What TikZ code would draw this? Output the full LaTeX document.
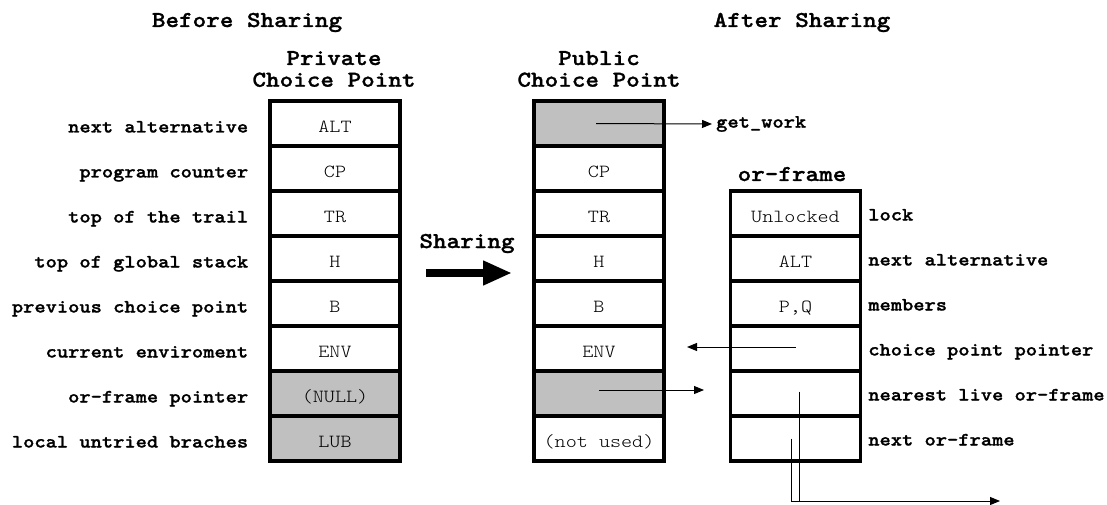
\documentclass[tikz,border=0pt]{standalone}
\usepackage{fontspec}
% typewriter faces, widened to the 0.6em advance of a Courier-style mono
\newfontfamily\monoreg{lmmonolt10-regular.otf}[FakeStretch=1.14]
\newfontfamily\monobold{lmmonolt10-bold.otf}[FakeStretch=1.14, FakeBold=1.2]
\usetikzlibrary{arrows.meta}
\definecolor{cellgrey}{HTML}{C0C0C0}
\newcommand{\cellfont}{\monoreg\fontsize{18.5}{20}\selectfont}
\newcommand{\lblfont}{\monobold\fontsize{18.8}{20}\selectfont}
\newcommand{\ttlfont}{\monobold\fontsize{22.7}{24}\selectfont}
\begin{document}
\begin{tikzpicture}[x=1pt,y=-1pt,
  cell/.style={draw, line width=3.2pt, minimum width=130pt, minimum height=45pt,
    inner sep=0pt, text height=18pt, text depth=0pt, font=\cellfont},
  shaded/.style={cell, fill=cellgrey},
  lbl/.style={font=\lblfont, inner sep=0pt},
  ttl/.style={font=\ttlfont, inner sep=0pt, anchor=base},
  ptr/.style={line width=1pt, -{Triangle[length=10pt,width=8pt]}},
  wire/.style={line width=1pt}]
\useasboundingbox (0,0) rectangle (1107,505);

% titles
\node[ttl] (before) at (247,27) {Before Sharing};
\node[ttl] (after) at (802,27) {After Sharing};
\node[ttl] (privA) at (334,65) {Private};
\node[ttl] (privB) at (334,86.7) {Choice Point};
\node[ttl] (pubA) at (599,65) {Public};
\node[ttl] (pubB) at (599,86.7) {Choice Point};
\node[ttl] (orttl) at (792,181) {or-frame};

% private choice point
\foreach \i/\t/\s/\l in {1/ALT/cell/next alternative,
                         2/CP/cell/program counter,
                         3/TR/cell/top of the trail,
                         4/H/cell/top of global stack,
                         5/B/cell/previous choice point,
                         6/ENV/cell/current enviroment,
                         7/(NULL)/shaded/or-frame pointer,
                         8/LUB/shaded/local untried braches}{
  \node[\s] (prv\i) at (335,{101+45*(\i-0.5)}) {\t};
  \node[lbl, anchor=base east] (prvl\i) at ([shift={(-20,9)}]prv\i.west) {\l};
}

% public choice point
\foreach \i/\t/\s in {1//shaded, 2/CP/cell, 3/TR/cell, 4/H/cell, 5/B/cell,
                      6/ENV/cell, 7//shaded, 8/(not used)/cell}{
  \node[\s] (pub\i) at (599,{101+45*(\i-0.5)}) {\t};
}

% or-frame
\foreach \i/\t/\l in {1/Unlocked/lock, 2/ALT/next alternative, 3/{P,Q}/members,
                      4//choice point pointer, 5//nearest live or-frame,
                      6//next or-frame}{
  \node[cell] (orf\i) at (795.5,{191+45*(\i-0.5)}) {\t};
  \node[lbl, anchor=base west] (orfl\i) at ([shift={(6,7)}]orf\i.east) {\l};
}

% sharing arrow
\node[font=\ttlfont, inner sep=0pt, anchor=base] (share) at (467,248) {Sharing};
\coordinate (shS) at (426,273);
\coordinate (shE) at (512,273);
\draw[line width=8pt, -{Triangle[length=29pt,width=23pt]}] (shS) -- (shE);

% pointers
\node[lbl, anchor=west] (gw) at (716,124) {get\_work};
\coordinate (gwEnd) at (712,124);
\draw[ptr] ([xshift=-3pt]pub1.center) -- (gwEnd);

\coordinate (cpEnd) at (687,347);
\draw[ptr] ([shift={(0,-1.5)}]orf4.center) -- (cpEnd);

\coordinate (ofEnd) at (704,390);
\draw[ptr] ([shift={(0,-3.5)}]pub7.center) -- (ofEnd);

\coordinate (nlS) at ([shift={(3.5,-2)}]orf5.center);
\coordinate (noS) at ([shift={(-4.5,0)}]orf6.center);
\coordinate (outEnd) at (1000,501);
\draw[wire] (nlS) -- (nlS |- outEnd);
\draw[ptr] (noS) -- (noS |- outEnd) -- (outEnd);
\end{tikzpicture}
\end{document}
